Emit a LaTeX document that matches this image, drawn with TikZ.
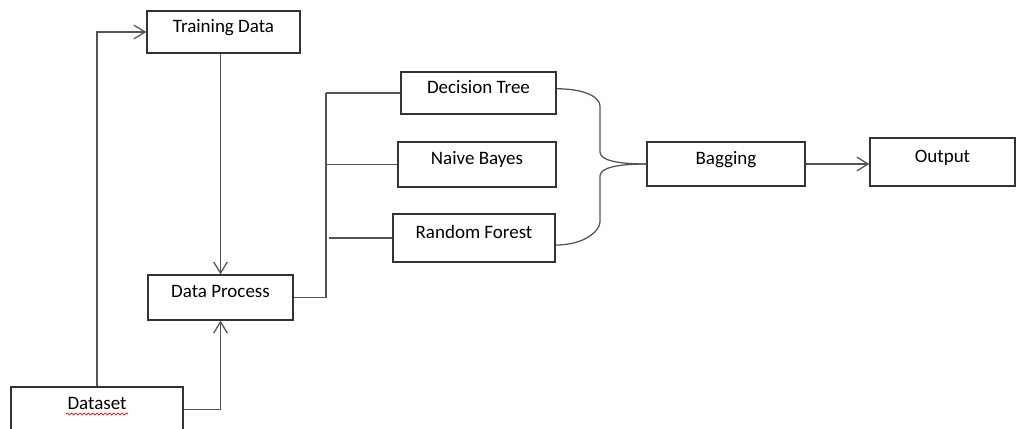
\documentclass[tikz,border=0pt]{standalone}
\usepackage{fontspec}
\setmainfont{Carlito}
\usepackage{tikz}
\usetikzlibrary{arrows.meta,decorations.pathmorphing}
\definecolor{lngray}{rgb}{0.33,0.33,0.33}
\definecolor{bxgray}{rgb}{0.2,0.2,0.2}
\tikzset{
	blk/.style={draw=bxgray,line width=0.9pt,rectangle,inner sep=0pt,
		text height=0.33cm,text depth=0.33cm,font=\fontsize{13.5}{15}\selectfont},
	conn/.style={draw=lngray,line width=0.9pt},
	>={Straight Barb[length=2.8mm,width=3.4mm]}
}
\begin{document}
\begin{tikzpicture}[x=0.025cm,y=-0.025cm]
		\useasboundingbox (0,0) rectangle (1019,428);
		\clip (0,0) rectangle (1019,428);
		% boxes
		\node[blk,minimum width=3.825cm,minimum height=1.05cm] (td) at (223.5,32) {Training Data};
		\node[blk,minimum width=3.625cm,minimum height=1.125cm] (dp) at (220.5,297.5) {Data Process};
		\node[blk,minimum width=4.3cm,minimum height=1.125cm] (ds) at (97,409.5) {Dataset};
		\node[blk,minimum width=3.875cm,minimum height=1.05cm] (dt) at (478.5,93) {Decision Tree};
		\node[blk,minimum width=3.95cm,minimum height=1.125cm] (nb) at (477,164.5) {Naive Bayes};
		\node[blk,minimum width=4.05cm,minimum height=1.2cm] (rf) at (474,238) {Random Forest};
		\node[blk,minimum width=3.95cm,minimum height=1.1cm] (bg) at (726,164) {Bagging};
		\node[blk,minimum width=3.625cm,minimum height=1.2cm] (out) at (942.5,162) {Output};
		\draw[red,line width=0.5pt,decorate,decoration={snake,amplitude=0.7pt,segment length=3pt}] (66,414) -- (128,414);
		% dataset and data process
		\draw[conn,->] (ds.north) |- (td.west);
		\draw[conn,->] (dp.north |- td.south) -- (dp.north);
		\draw[conn,->] (ds.east) -| (dp.south);
		\coordinate (jn) at (326,297.5);
		\draw[conn] (dp.east) -- (jn) -- (jn |- dt.west);
		\draw[conn] (jn |- dt.west) -- (dt.west);
		\draw[conn] (jn |- nb.west) -- (nb.west);
		\draw[conn] ([xshift=2]jn |- rf.west) -- (rf.west);
		% brace into bagging
		\draw[conn] ([yshift=3]dt.east) .. controls +(30,0) and +(0,-8) .. (600,106) -- (600,152) .. controls +(0,8) and +(-30,0) .. (bg.west);
		\draw[conn] ([yshift=-5]rf.east) .. controls +(30,0) and +(0,8) .. (600,222) -- (600,176) .. controls +(0,-8) and +(-30,0) .. (bg.west);
		\draw[conn,->] (bg.east) -- (bg.east -| out.west);
		\end{tikzpicture}
\end{document}
